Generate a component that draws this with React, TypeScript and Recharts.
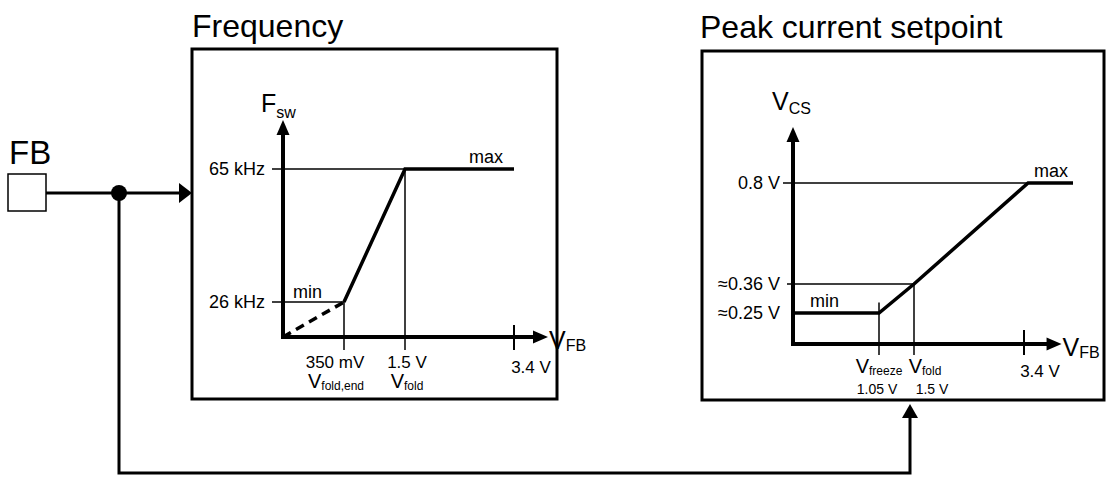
import React from 'react';
import { ComposedChart, Line, XAxis, YAxis, ReferenceLine, ReferenceDot } from 'recharts';

const FONT = '"Liberation Sans", Arial, Helvetica, sans-serif';
const INK = '#000';

// ---------- data: switching frequency vs V_FB ----------
const freqTicksX = [0.35, 1.5, 3.4];
const freqTickValueLabels = ['350 mV', '1.5 V', '3.4 V'];
const freqTickNameSubs = ['fold,end', 'fold', ''];
const freqTicksY = [26, 65];
const freqTickLabelsY = ['26 kHz', '65 kHz'];
const freqFoldbackX = [0, 0.35];
const freqFoldbackY = [0, 26];
const freqCurveX = [0.35, 1.5, 3.4];
const freqCurveY = [26, 65, 65];
const freqAxisMax = [3.9, 100];

// ---------- data: peak current setpoint vs V_FB ----------
const csTicksX = [1.05, 1.5, 3.4];
const csTickValueLabels = ['1.05 V', '1.5 V', '3.4 V'];
const csTickNameSubs = ['freeze', 'fold', ''];
const csTicksY = [0.25, 0.36, 0.8];
const csTickLabelsY = ['≈0.25 V', '≈0.36 V', '0.8 V'];
const csCurveX = [0, 1.05, 1.5, 3.45, 4.0];
const csCurveY = [0.25, 0.25, 0.36, 0.8, 0.8];
const csFreezeMarkTop = 0.29;
const csAxisMax = [3.86, 1.0];

// ---------- schematic (not to scale) axis spacing ----------
const freqXKnots = [0, 0.35, 1.5, 3.4, 3.9];
const freqXSpacing = [0, 61, 122, 231, 265];
const freqYKnots = [0, 26, 65, 100];
const freqYSpacing = [0, 35, 168, 217];
const csXKnots = [0, 1.05, 1.5, 3.4, 4.0];
const csXSpacing = [0, 86, 121, 231, 280];
const csYKnots = [0, 0.25, 0.36, 0.8, 1.0];
const csYSpacing = [0, 31, 60, 161, 217];

const zip = (xs: number[], ys: number[]) => xs.map((x, i) => ({ x, y: ys[i] }));

function schematicScale(knots: number[], spacing: number[]): any {
  let dom: number[] = [knots[0], knots[knots.length - 1]];
  let rng: number[] = [0, 1];
  const n = knots.length;
  const toUnit = (v: number) => {
    let i = 0;
    while (i < n - 2 && v > knots[i + 1]) i++;
    const t = (v - knots[i]) / (knots[i + 1] - knots[i]);
    return spacing[i] + t * (spacing[i + 1] - spacing[i]);
  };
  const fromUnit = (u: number) => {
    let i = 0;
    while (i < n - 2 && u > spacing[i + 1]) i++;
    const t = (u - spacing[i]) / (spacing[i + 1] - spacing[i]);
    return knots[i] + t * (knots[i + 1] - knots[i]);
  };
  const s: any = (v: any) => {
    const u0 = toUnit(dom[0]);
    const u1 = toUnit(dom[dom.length - 1]);
    const f = (toUnit(Number(v)) - u0) / (u1 - u0);
    return rng[0] + f * (rng[rng.length - 1] - rng[0]);
  };
  s.domain = (d?: any[]) => {
    if (d === undefined) return dom.slice();
    dom = d.map(Number);
    return s;
  };
  s.range = (r?: any[]) => {
    if (r === undefined) return rng.slice();
    rng = r.map(Number);
    return s;
  };
  s.invert = (p: number) => {
    const u0 = toUnit(dom[0]);
    const u1 = toUnit(dom[dom.length - 1]);
    const f = (p - rng[0]) / (rng[rng.length - 1] - rng[0]);
    return fromUnit(u0 + f * (u1 - u0));
  };
  s.copy = () => schematicScale(knots, spacing).domain(dom).range(rng);
  s.ticks = () => knots.slice();
  s.tickFormat = () => (v: any) => String(v);
  s.nice = () => s;
  s.clamp = () => s;
  s.unknown = () => s;
  return s;
}

const thin = { stroke: INK, strokeWidth: 1.5 };

// axis line with arrow head and its name label
function xAxisShape(sub: string) {
  return (p: any) => {
    const { x1, y1, x2, y2 } = p;
    return (
      <g>
        <line x1={x1} y1={y1} x2={x2 - 12} y2={y2} stroke={INK} strokeWidth={4} strokeLinecap="square" />
        <polygon points={`${x2},${y2} ${x2 - 15},${y2 - 6.5} ${x2 - 15},${y2 + 6.5}`} fill={INK} />
        <text x={x2 + 1} y={y2 + 12} fontFamily={FONT} fontSize={25} fill={INK}>
          V<tspan fontSize={16} dy={2}>{sub}</tspan>
        </text>
      </g>
    );
  };
}

function yAxisShape(main: string, sub: string, dx: number, dy: number, subDy: number) {
  return (p: any) => {
    const { x1, y1, x2, y2 } = p;
    return (
      <g>
        <line x1={x1} y1={y1} x2={x2} y2={y2 + 12} stroke={INK} strokeWidth={4} strokeLinecap="square" />
        <polygon points={`${x2},${y2} ${x2 - 6.5},${y2 + 15} ${x2 + 6.5},${y2 + 15}`} fill={INK} />
        <text x={x2 + dx} y={y2 + dy} fontFamily={FONT} fontSize={25} fill={INK}>
          {main}
          <tspan fontSize={16} dy={subDy}>{sub}</tspan>
        </text>
      </g>
    );
  };
}

function textShape(txt: string, dx: number, dy: number, anchor: string) {
  return (p: any) => (
    <text x={p.cx + dx} y={p.cy + dy} textAnchor={anchor} fontFamily={FONT} fontSize={18} fill={INK}>
      {txt}
    </text>
  );
}

// ---------- tick renderers ----------
const freqValueDx = [-9, 2, 17];
const freqNameDx = [-8, 2, 0];
const FreqXTick = (props: any) => {
  const { x, y, payload } = props;
  const i = freqTicksX.indexOf(payload.value);
  if (i < 0) return <g />;
  if (i === 2) {
    return (
      <g>
        <line x1={x} x2={x} y1={y - 12} y2={y + 13} stroke={INK} strokeWidth={2} />
        <text x={x + freqValueDx[i]} y={y + 36} textAnchor="middle" fontFamily={FONT} fontSize={17} fill={INK}>
          {freqTickValueLabels[i]}
        </text>
      </g>
    );
  }
  return (
    <g>
      <line x1={x} x2={x} y1={y} y2={y + 13} {...thin} />
      <text x={x + freqValueDx[i]} y={y + 31} textAnchor="middle" fontFamily={FONT} fontSize={17} fill={INK}>
        {freqTickValueLabels[i]}
      </text>
      <text x={x + freqNameDx[i]} y={y + 51} textAnchor="middle" fontFamily={FONT} fontSize={20} fill={INK}>
        V<tspan fontSize={12} dy={2}>{freqTickNameSubs[i]}</tspan>
      </text>
    </g>
  );
};

const FreqYTick = (props: any) => {
  const { x, y, payload } = props;
  const i = freqTicksY.indexOf(payload.value);
  if (i < 0) return <g />;
  return (
    <g>
      <line x1={x - 11} x2={x} y1={y} y2={y} {...thin} />
      <text x={x - 18} y={y + 6} textAnchor="end" fontFamily={FONT} fontSize={18} fill={INK}>
        {freqTickLabelsY[i]}
      </text>
    </g>
  );
};

const csValueDx = [-2, 18, 16];
const csNameDx = [0, 11, 0];
const CsXTick = (props: any) => {
  const { x, y, payload } = props;
  const i = csTicksX.indexOf(payload.value);
  if (i < 0) return <g />;
  if (i === 2) {
    return (
      <g>
        <line x1={x} x2={x} y1={y - 14} y2={y + 11} stroke={INK} strokeWidth={2} />
        <text x={x + csValueDx[i]} y={y + 33} textAnchor="middle" fontFamily={FONT} fontSize={17} fill={INK}>
          {csTickValueLabels[i]}
        </text>
      </g>
    );
  }
  return (
    <g>
      <line x1={x} x2={x} y1={y} y2={y + 11} {...thin} />
      <text x={x + csNameDx[i]} y={y + 29} textAnchor="middle" fontFamily={FONT} fontSize={20} fill={INK}>
        V<tspan fontSize={12} dy={2}>{csTickNameSubs[i]}</tspan>
      </text>
      <text x={x + csValueDx[i]} y={y + 50} textAnchor="middle" fontFamily={FONT} fontSize={14} fill={INK}>
        {csTickValueLabels[i]}
      </text>
    </g>
  );
};

const csTickLen = [0, 6, 10];
const CsYTick = (props: any) => {
  const { x, y, payload } = props;
  const i = csTicksY.indexOf(payload.value);
  if (i < 0) return <g />;
  return (
    <g>
      {csTickLen[i] > 0 && <line x1={x - csTickLen[i]} x2={x} y1={y} y2={y} {...thin} />}
      <text x={x - 13} y={y + 6} textAnchor="end" fontFamily={FONT} fontSize={18} fill={INK}>
        {csTickLabelsY[i]}
      </text>
    </g>
  );
};

const FrequencyChart = () => {
  const xs = schematicScale(freqXKnots, freqXSpacing);
  const ys = schematicScale(freqYKnots, freqYSpacing);
  return (
    <ComposedChart width={408} height={350} margin={{ top: 71, right: 52, bottom: 12, left: 11 }}>
      <XAxis
        dataKey="x"
        type="number"
        scale={xs}
        domain={[0, freqAxisMax[0]]}
        ticks={freqTicksX}
        interval={0}
        height={50}
        axisLine={false}
        tickLine={false}
        tickSize={0}
        tickMargin={0}
        tick={FreqXTick}
      />
      <YAxis
        type="number"
        scale={ys}
        domain={[0, freqAxisMax[1]]}
        ticks={freqTicksY}
        interval={0}
        width={80}
        axisLine={false}
        tickLine={false}
        tickSize={0}
        tickMargin={0}
        tick={FreqYTick}
      />
      <ReferenceLine ifOverflow="visible" segment={[{ x: 0, y: freqTicksY[1] }, { x: freqCurveX[1], y: freqTicksY[1] }]} {...thin} />
      <ReferenceLine ifOverflow="visible" segment={[{ x: 0, y: freqTicksY[0] }, { x: freqTicksX[0], y: freqTicksY[0] }]} {...thin} />
      <ReferenceLine ifOverflow="visible" segment={[{ x: freqTicksX[0], y: 0 }, { x: freqTicksX[0], y: freqTicksY[0] }]} {...thin} />
      <ReferenceLine ifOverflow="visible" segment={[{ x: freqTicksX[1], y: 0 }, { x: freqTicksX[1], y: freqTicksY[1] }]} {...thin} />
      <Line
        data={zip(freqFoldbackX, freqFoldbackY)}
        dataKey="y"
        stroke={INK}
        strokeWidth={3.5}
        strokeDasharray="9 6"
        dot={false}
        activeDot={false}
        isAnimationActive={false}
      />
      <Line
        data={zip(freqCurveX, freqCurveY)}
        dataKey="y"
        stroke={INK}
        strokeWidth={3.5}
        dot={false}
        activeDot={false}
        isAnimationActive={false}
      />
      <ReferenceLine ifOverflow="visible" segment={[{ x: 0, y: 0 }, { x: freqAxisMax[0], y: 0 }]} shape={xAxisShape('FB')} />
      <ReferenceLine ifOverflow="visible" segment={[{ x: 0, y: 0 }, { x: 0, y: freqAxisMax[1] }]} shape={yAxisShape('F', 'sw', -22, -8, 6)} />
      <ReferenceDot ifOverflow="visible" x={freqCurveX[2]} y={freqCurveY[2]} shape={textShape('max', -11, -6, 'end')} />
      <ReferenceDot ifOverflow="visible" x={0} y={freqTicksY[0]} shape={textShape('min', 10, -4, 'start')} />
    </ComposedChart>
  );
};

const PeakCurrentChart = () => {
  const xs = schematicScale(csXKnots, csXSpacing);
  const ys = schematicScale(csYKnots, csYSpacing);
  return (
    <ComposedChart width={405} height={349} margin={{ top: 76, right: 34, bottom: 6, left: 11 }}>
      <XAxis
        dataKey="x"
        type="number"
        scale={xs}
        domain={[0, csCurveX[csCurveX.length - 1]]}
        ticks={csTicksX}
        interval={0}
        height={50}
        axisLine={false}
        tickLine={false}
        tickSize={0}
        tickMargin={0}
        tick={CsXTick}
      />
      <YAxis
        type="number"
        scale={ys}
        domain={[0, csAxisMax[1]]}
        ticks={csTicksY}
        interval={0}
        width={80}
        axisLine={false}
        tickLine={false}
        tickSize={0}
        tickMargin={0}
        tick={CsYTick}
      />
      <ReferenceLine ifOverflow="visible" segment={[{ x: 0, y: csTicksY[2] }, { x: csCurveX[3], y: csTicksY[2] }]} {...thin} />
      <ReferenceLine ifOverflow="visible" segment={[{ x: 0, y: csTicksY[1] }, { x: csTicksX[1], y: csTicksY[1] }]} {...thin} />
      <ReferenceLine ifOverflow="visible" segment={[{ x: csTicksX[0], y: 0 }, { x: csTicksX[0], y: csFreezeMarkTop }]} {...thin} />
      <ReferenceLine ifOverflow="visible" segment={[{ x: csTicksX[1], y: 0 }, { x: csTicksX[1], y: csTicksY[1] }]} {...thin} />
      <Line
        data={zip(csCurveX, csCurveY)}
        dataKey="y"
        stroke={INK}
        strokeWidth={3.5}
        dot={false}
        activeDot={false}
        isAnimationActive={false}
      />
      <ReferenceLine ifOverflow="visible" segment={[{ x: 0, y: 0 }, { x: csAxisMax[0], y: 0 }]} shape={xAxisShape('FB')} />
      <ReferenceLine ifOverflow="visible" segment={[{ x: 0, y: 0 }, { x: 0, y: csAxisMax[1] }]} shape={yAxisShape('V', 'CS', -21, -17, 4)} />
      <ReferenceDot ifOverflow="visible" x={csCurveX[4]} y={csCurveY[4]} shape={textShape('max', -5, -6, 'end')} />
      <ReferenceDot ifOverflow="visible" x={0} y={csCurveY[0]} shape={textShape('min', 17, -6, 'start')} />
    </ComposedChart>
  );
};

export default function App() {
  return (
    <div style={{ position: 'absolute', left: 0, top: 0, width: 1107, height: 478, background: '#fff', overflow: 'hidden' }}>
      <svg width={1107} height={478} style={{ position: 'absolute', left: 0, top: 0 }}>
        <text x={192} y={37} fontFamily={FONT} fontSize={32} fill={INK}>Frequency</text>
        <text x={700} y={38} fontFamily={FONT} fontSize={32} fill={INK}>Peak current setpoint</text>
        <text x={9} y={164} fontFamily={FONT} fontSize={33} fill={INK}>FB</text>
        <rect x={8} y={174} width={38} height={37} fill="none" stroke={INK} strokeWidth={1.5} />
        <line x1={46} y1={193} x2={182} y2={193} stroke={INK} strokeWidth={3} />
        <polygon points="179,183 192,193 179,203" fill={INK} />
        <circle cx={119} cy={193} r={8} fill={INK} />
        <polyline points="119,193 119,473 910,473 910,416" fill="none" stroke={INK} strokeWidth={3} />
        <polygon points="902,418 910,404 918,418" fill={INK} />
        <rect x={192} y={49} width={365} height={350} fill="none" stroke={INK} strokeWidth={3} />
        <rect x={702} y={51} width={402} height={349} fill="none" stroke={INK} strokeWidth={3} />
      </svg>
      <div style={{ position: 'absolute', left: 192, top: 49 }}>
        <FrequencyChart />
      </div>
      <div style={{ position: 'absolute', left: 702, top: 51 }}>
        <PeakCurrentChart />
      </div>
    </div>
  );
}
